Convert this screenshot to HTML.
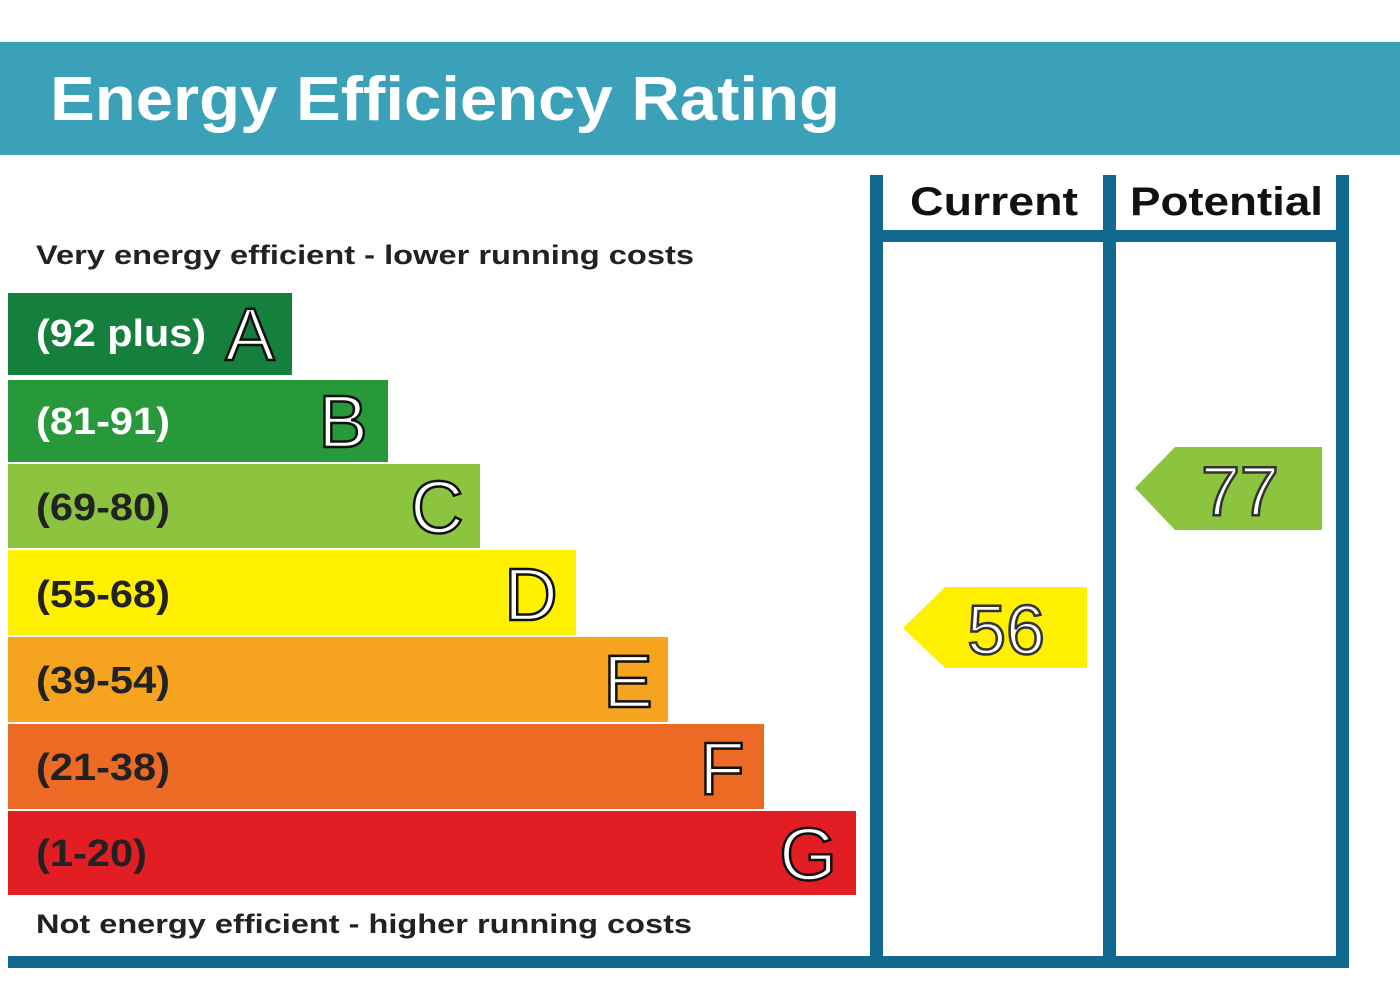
<!DOCTYPE html>
<html><head><style>body{margin:0;background:#fff}svg{display:block}</style></head>
<body>
<svg width="1400" height="1002" viewBox="0 0 1400 1002" xmlns="http://www.w3.org/2000/svg" font-family="Liberation Sans, Arial, sans-serif" font-weight="bold">
<rect width="1400" height="1002" fill="#fff"/>
<rect x="0" y="42" width="1400" height="113" fill="#3aa1b9"/>
<text x="50" y="120" font-size="62" fill="#fff" textLength="790" lengthAdjust="spacingAndGlyphs">Energy Efficiency Rating</text>
<g fill="#12698f">
<rect x="870" y="175" width="13" height="793"/>
<rect x="1103" y="175" width="13" height="793"/>
<rect x="1336" y="175" width="13" height="793"/>
<rect x="876" y="230" width="468" height="12"/>
<rect x="8" y="956" width="1341" height="12"/>
</g>
<text x="910" y="215" font-size="40" fill="#111" textLength="168" lengthAdjust="spacingAndGlyphs">Current</text>
<text x="1130" y="215" font-size="40" fill="#111" textLength="193" lengthAdjust="spacingAndGlyphs">Potential</text>
<text x="36" y="264" font-size="27" fill="#222" textLength="658" lengthAdjust="spacingAndGlyphs">Very energy efficient - lower running costs</text>
<text x="36" y="933" font-size="27" fill="#222" textLength="656" lengthAdjust="spacingAndGlyphs">Not energy efficient - higher running costs</text>
<g>
<rect x="8" y="293" width="284" height="82" fill="#157f3e"/>
<rect x="8" y="380" width="380" height="82" fill="#28993a"/>
<rect x="8" y="464" width="472" height="84" fill="#8cc43f"/>
<rect x="8" y="550" width="568" height="85" fill="#fff000"/>
<rect x="8" y="637" width="660" height="85" fill="#f6a31f"/>
<rect x="8" y="724" width="756" height="85" fill="#ec6a24"/>
<rect x="8" y="811" width="848" height="84" fill="#e31d24"/>
</g>
<g font-size="38" lengthAdjust="spacingAndGlyphs">
<text x="36" y="346" fill="#fff" textLength="170" lengthAdjust="spacingAndGlyphs">(92 plus)</text>
<text x="36" y="434" fill="#fff" textLength="134" lengthAdjust="spacingAndGlyphs">(81-91)</text>
<text x="36" y="520" fill="#222" textLength="134" lengthAdjust="spacingAndGlyphs">(69-80)</text>
<text x="36" y="607" fill="#222" textLength="134" lengthAdjust="spacingAndGlyphs">(55-68)</text>
<text x="36" y="693" fill="#222" textLength="134" lengthAdjust="spacingAndGlyphs">(39-54)</text>
<text x="36" y="780" fill="#222" textLength="134" lengthAdjust="spacingAndGlyphs">(21-38)</text>
<text x="36" y="866" fill="#222" textLength="111" lengthAdjust="spacingAndGlyphs">(1-20)</text>
</g>
<g font-size="74" font-weight="normal" fill="#fff" stroke="#111" stroke-width="2.5" text-anchor="middle">
<text x="250" y="360">A</text>
<text x="343" y="447">B</text>
<text x="437" y="533">C</text>
<text x="531" y="620">D</text>
<text x="628" y="707">E</text>
<text x="722" y="794">F</text>
<text x="808" y="880">G</text>
</g>
<polygon points="903,628 945,587 1087,587 1087,668 945,668" fill="#fff000"/>
<polygon points="1135,488 1175,447 1322,447 1322,530 1175,530" fill="#8cc43f"/>
<g font-size="70" font-weight="normal" fill="#fff" stroke="#333" stroke-width="2.5" text-anchor="middle">
<text x="1006" y="654">56</text>
<text x="1240" y="515">77</text>
</g>
</svg>
</body></html>
